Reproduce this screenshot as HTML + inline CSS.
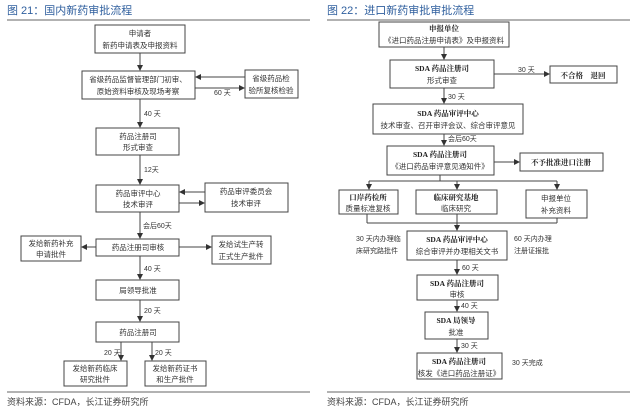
<!DOCTYPE html>
<html><head><meta charset="utf-8"><style>
html,body{margin:0;padding:0;background:#fff;}
svg{display:block;font-family:"Liberation Sans","Noto Sans CJK SC",sans-serif;}
.b{fill:#fff;stroke:#444;stroke-width:1;}
.t{font-size:7.5px;fill:#333;text-anchor:middle;}
.tb{font-size:7.5px;fill:#222;text-anchor:middle;font-weight:bold;font-family:"Liberation Serif","Noto Serif CJK SC",serif;}
.l{font-size:7px;fill:#333;}
.ln{stroke:#444;stroke-width:1;fill:none;}
.h{font-size:11px;fill:#2f5f9e;}
.s{font-size:9px;fill:#444;}
</style></head><body>
<svg width="640" height="413" viewBox="0 0 640 413" xmlns="http://www.w3.org/2000/svg">
<defs><marker id="a" markerWidth="6" markerHeight="6" refX="5" refY="3" orient="auto" markerUnits="userSpaceOnUse"><path d="M0,0 L6,3 L0,6 z" fill="#333"/></marker></defs>
<!-- LEFT -->
<text x="7" y="14" class="h">图 21：国内新药审批流程</text>
<line x1="7" y1="20" x2="310" y2="20" stroke="#666"/>
<rect class="b" x="95" y="25" width="90" height="28"/><text class="t" x="140" y="36">申请者</text><text class="t" x="140" y="48">新药申请表及申报资料</text>
<line class="ln" x1="140" y1="53" x2="140" y2="70" marker-end="url(#a)"/>
<rect class="b" x="82" y="71" width="113" height="28"/><text class="t" x="138" y="82">省级药品监督管理部门初审、</text><text class="t" x="138" y="94">原始资料审核及现场考察</text>
<rect class="b" x="245" y="70" width="53" height="28"/><text class="t" x="271" y="81">省级药品检</text><text class="t" x="271" y="93">验所复核检验</text>
<line class="ln" x1="245" y1="77" x2="196" y2="77" marker-end="url(#a)"/>
<line class="ln" x1="195" y1="88" x2="244" y2="88" marker-end="url(#a)"/>
<text class="l" x="214" y="95">60 天</text>
<line class="ln" x1="140" y1="99" x2="140" y2="127" marker-end="url(#a)"/><text class="l" x="144" y="116">40 天</text>
<rect class="b" x="96" y="128" width="83" height="27"/><text class="t" x="138" y="139">药品注册司</text><text class="t" x="138" y="150">形式审查</text>
<line class="ln" x1="140" y1="155" x2="140" y2="184" marker-end="url(#a)"/><text class="l" x="144" y="172">12天</text>
<rect class="b" x="96" y="185" width="83" height="27"/><text class="t" x="138" y="196">药品审评中心</text><text class="t" x="138" y="207">技术审评</text>
<rect class="b" x="205" y="183" width="83" height="29"/><text class="t" x="246" y="194">药品审评委员会</text><text class="t" x="246" y="206">技术审评</text>
<line class="ln" x1="205" y1="192" x2="180" y2="192" marker-end="url(#a)"/>
<line class="ln" x1="179" y1="203" x2="204" y2="203" marker-end="url(#a)"/>
<line class="ln" x1="140" y1="212" x2="140" y2="238" marker-end="url(#a)"/><text class="l" x="143" y="228">会后60天</text>
<rect class="b" x="96" y="239" width="83" height="17"/><text class="t" x="138" y="250">药品注册司审核</text>
<rect class="b" x="21" y="236" width="60" height="25"/><text class="t" x="51" y="246">发给新药补充</text><text class="t" x="51" y="257">申请批件</text>
<rect class="b" x="212" y="236" width="59" height="28"/><text class="t" x="241" y="247">发给试生产转</text><text class="t" x="241" y="259">正式生产批件</text>
<line class="ln" x1="96" y1="247" x2="82" y2="247" marker-end="url(#a)"/>
<line class="ln" x1="179" y1="247" x2="211" y2="247" marker-end="url(#a)"/>
<line class="ln" x1="140" y1="256" x2="140" y2="279" marker-end="url(#a)"/><text class="l" x="144" y="271">40 天</text>
<rect class="b" x="96" y="280" width="83" height="20"/><text class="t" x="138" y="293">局领导批准</text>
<line class="ln" x1="140" y1="300" x2="140" y2="321" marker-end="url(#a)"/><text class="l" x="144" y="313">20 天</text>
<rect class="b" x="96" y="322" width="83" height="20"/><text class="t" x="138" y="335">药品注册司</text>
<line class="ln" x1="121" y1="342" x2="121" y2="360" marker-end="url(#a)"/><text class="l" x="104" y="355">20 天</text>
<line class="ln" x1="152" y1="342" x2="152" y2="360" marker-end="url(#a)"/><text class="l" x="155" y="355">20 天</text>
<rect class="b" x="64" y="361" width="63" height="25"/><text class="t" x="95" y="371">发给新药临床</text><text class="t" x="95" y="382">研究批件</text>
<rect class="b" x="145" y="361" width="61" height="25"/><text class="t" x="175" y="371">发给新药证书</text><text class="t" x="175" y="382">和生产批件</text>
<line x1="7" y1="392" x2="310" y2="392" stroke="#666"/>
<text class="s" x="7" y="405">资料来源：CFDA，长江证券研究所</text>
<!-- RIGHT -->
<text x="327" y="14" class="h">图 22：进口新药审批审批流程</text>
<line x1="327" y1="20" x2="630" y2="20" stroke="#666"/>
<rect class="b" x="379" y="22" width="130" height="25"/><text class="tb" x="444" y="31">申报单位</text><text class="t" x="444" y="43">《进口药品注册申请表》及申报资料</text>
<line class="ln" x1="444" y1="47" x2="444" y2="59" marker-end="url(#a)"/>
<rect class="b" x="390" y="60" width="104" height="28"/><text class="tb" x="442" y="71">SDA 药品注册司</text><text class="t" x="442" y="83">形式审查</text>
<line class="ln" x1="494" y1="74" x2="549" y2="74" marker-end="url(#a)"/><text class="l" x="518" y="72">30 天</text>
<rect class="b" x="550" y="66" width="67" height="17"/><text class="tb" x="583" y="78">不合格　退回</text>
<line class="ln" x1="444" y1="88" x2="444" y2="103" marker-end="url(#a)"/><text class="l" x="448" y="99">30 天</text>
<rect class="b" x="373" y="104" width="150" height="30"/><text class="tb" x="448" y="116">SDA 药品审评中心</text><text class="t" x="448" y="128">技术审查、召开审评会议、综合审评意见</text>
<line class="ln" x1="444" y1="134" x2="444" y2="145" marker-end="url(#a)"/><text class="l" x="448" y="141">会后60天</text>
<rect class="b" x="387" y="146" width="107" height="29"/><text class="tb" x="440" y="157">SDA 药品注册司</text><text class="t" x="440" y="169">《进口药品审评意见通知件》</text>
<line class="ln" x1="494" y1="162" x2="519" y2="162" marker-end="url(#a)"/>
<rect class="b" x="520" y="153" width="83" height="18"/><text class="tb" x="561" y="165">不予批准进口注册</text>
<line class="ln" x1="440" y1="175" x2="440" y2="181"/>
<line class="ln" x1="369" y1="181" x2="557" y2="181"/>
<line class="ln" x1="369" y1="181" x2="369" y2="189" marker-end="url(#a)"/>
<line class="ln" x1="457" y1="181" x2="457" y2="189" marker-end="url(#a)"/>
<line class="ln" x1="557" y1="181" x2="557" y2="189" marker-end="url(#a)"/>
<rect class="b" x="339" y="190" width="59" height="24"/><text class="tb" x="368" y="200">口岸药检所</text><text class="t" x="368" y="211">质量标准复核</text>
<rect class="b" x="416" y="190" width="81" height="24"/><text class="tb" x="456" y="200">临床研究基地</text><text class="t" x="456" y="211">临床研究</text>
<rect class="b" x="526" y="190" width="61" height="28"/><text class="t" x="556" y="201">申报单位</text><text class="t" x="556" y="213">补充资料</text>
<line class="ln" x1="367" y1="214" x2="367" y2="223"/>
<line class="ln" x1="557" y1="218" x2="557" y2="223"/>
<line class="ln" x1="367" y1="223" x2="557" y2="223"/>
<line class="ln" x1="457" y1="214" x2="457" y2="230" marker-end="url(#a)"/>
<rect class="b" x="407" y="231" width="100" height="29"/><text class="tb" x="457" y="242">SDA 药品审评中心</text><text class="t" x="457" y="254">综合审评并办理相关文书</text>
<text class="l" x="356" y="241">30 天内办理临</text><text class="l" x="356" y="253">床研究路批件</text>
<text class="l" x="514" y="241">60 天内办理</text><text class="l" x="514" y="253">注册证报批</text>
<line class="ln" x1="457" y1="260" x2="457" y2="274" marker-end="url(#a)"/><text class="l" x="462" y="270">60 天</text>
<rect class="b" x="417" y="275" width="81" height="25"/><text class="tb" x="457" y="286">SDA 药品注册司</text><text class="t" x="457" y="297">审核</text>
<line class="ln" x1="457" y1="300" x2="457" y2="311" marker-end="url(#a)"/><text class="l" x="461" y="308">40 天</text>
<rect class="b" x="425" y="312" width="63" height="27"/><text class="tb" x="456" y="323">SDA 局领导</text><text class="t" x="456" y="335">批准</text>
<line class="ln" x1="457" y1="339" x2="457" y2="352" marker-end="url(#a)"/><text class="l" x="461" y="348">30 天</text>
<rect class="b" x="417" y="353" width="85" height="26"/><text class="tb" x="459" y="364">SDA 药品注册司</text><text class="t" x="459" y="376">核发《进口药品注册证》</text>
<text class="l" x="512" y="365">30 天完成</text>
<line x1="327" y1="392" x2="630" y2="392" stroke="#666"/>
<text class="s" x="327" y="405">资料来源：CFDA，长江证券研究所</text>
</svg>
</body></html>
